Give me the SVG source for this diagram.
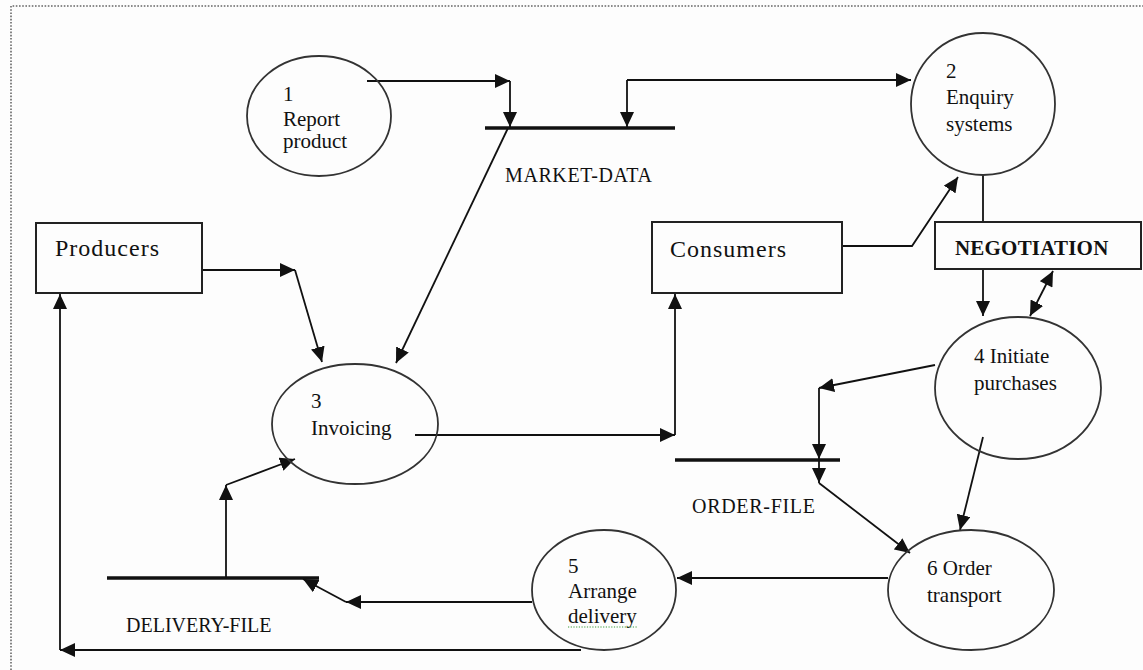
<svg xmlns="http://www.w3.org/2000/svg" width="1143" height="670" viewBox="0 0 1143 670">
<style>
.bg{fill:#fdfdfd}
.frame{fill:none;stroke:#666;stroke-width:1.6;stroke-dasharray:1.6 1.6}
.proc{fill:none;stroke:#333;stroke-width:1.8}
.box{fill:none;stroke:#222;stroke-width:2}
.store{stroke:#111;stroke-width:3.5}
.c{fill:none;stroke:#111;stroke-width:1.8;marker-end:url(#ah)}
.p{fill:none;stroke:#111;stroke-width:1.8}
.t{font-family:"Liberation Serif","Times New Roman",serif;font-size:21px;fill:#111}
.tb{font-family:"Liberation Serif","Times New Roman",serif;font-size:24px;letter-spacing:1px;fill:#111}
.ts{font-family:"Liberation Serif","Times New Roman",serif;font-size:20px;fill:#111}
.tn{font-family:"Liberation Serif","Times New Roman",serif;font-size:21px;font-weight:bold;letter-spacing:0.2px;fill:#111}
</style>
<defs>
<marker id="ah" markerUnits="userSpaceOnUse" markerWidth="16" markerHeight="14" refX="15" refY="7" orient="auto">
<path d="M0,0 L15,7 L0,14 Z" fill="#111"/>
</marker>
<marker id="as" markerUnits="userSpaceOnUse" markerWidth="16" markerHeight="14" refX="0" refY="7" orient="auto">
<path d="M15,0 L0,7 L15,14 Z" fill="#111"/>
</marker>
</defs>
<rect class="bg" x="0" y="0" width="1143" height="670"/>
<path class="frame" d="M11,670 V6 H1143"/>

<g id="connectors">
<path class="c" d="M367,81 H510"/>
<path class="c" d="M510,81 V127"/>
<path class="c" d="M627,80 H911"/>
<path class="c" d="M627,80 V127"/>
<path class="c" d="M202,270 H295"/>
<path class="c" d="M295,270 L322,362"/>
<path class="c" d="M508,128 L396,363"/>
<path class="c" d="M415,435 H675"/>
<path class="c" d="M675,435 V294"/>
<path class="c" d="M842,246 H912 L958,177"/>
<path class="p" d="M983,175 V222"/>
<path class="c" d="M983,269 V316"/>
<path class="c" d="M1053,271 L1030,316" marker-start="url(#as)"/>
<path class="c" d="M935,365 L819,388"/>
<path class="c" d="M819,388 V459"/>
<path class="c" d="M819,460 V483"/>
<path class="c" d="M819,483 L910,553"/>
<path class="c" d="M983,437 L960,530"/>
<path class="c" d="M888,578 H677"/>
<path class="c" d="M532,602 H346"/>
<path class="c" d="M346,602 L303,579"/>
<path class="c" d="M226,578 V485"/>
<path class="c" d="M226,485 L295,459"/>
<path class="c" d="M581,650 H60"/>
<path class="c" d="M60,650 V294"/>
</g>

<g id="market-data">
<line class="store" x1="485" y1="128" x2="675" y2="128"/>
<text class="ts" x="505" y="182" letter-spacing="0.6">MARKET-DATA</text>
</g>
<g id="order-file">
<line class="store" x1="675" y1="460" x2="840" y2="460"/>
<text class="ts" x="692" y="513" letter-spacing="0.7">ORDER-FILE</text>
</g>
<g id="delivery-file">
<line class="store" x1="107" y1="578" x2="319" y2="578"/>
<text class="ts" x="126" y="632">DELIVERY-FILE</text>
</g>

<g id="p1">
<ellipse class="proc" cx="319" cy="116" rx="72" ry="60"/>
<text class="t" x="283" y="101">1</text>
<text class="t" x="283" y="126">Report</text>
<text class="t" x="283" y="148">product</text>
</g>
<g id="p2">
<ellipse class="proc" cx="983" cy="104" rx="72" ry="71"/>
<text class="t" x="946" y="78">2</text>
<text class="t" x="946" y="104">Enquiry</text>
<text class="t" x="946" y="131">systems</text>
</g>
<g id="p3">
<ellipse class="proc" cx="355" cy="424" rx="83" ry="60"/>
<text class="t" x="311" y="408">3</text>
<text class="t" x="311" y="435">Invoicing</text>
</g>
<g id="p4">
<ellipse class="proc" cx="1018" cy="388" rx="83" ry="71"/>
<text class="t" x="974" y="363">4 Initiate</text>
<text class="t" x="974" y="390">purchases</text>
</g>
<g id="p5">
<ellipse class="proc" cx="604" cy="590" rx="72" ry="60"/>
<text class="t" x="568" y="573">5</text>
<text class="t" x="568" y="598">Arrange</text>
<text class="t" x="568" y="623">delivery</text>
<line x1="568" y1="627" x2="637" y2="627" stroke="#3a9a3a" stroke-width="1.2" stroke-dasharray="1.2 1.5"/>
</g>
<g id="p6">
<ellipse class="proc" cx="971" cy="590" rx="83" ry="60"/>
<text class="t" x="927" y="575">6 Order</text>
<text class="t" x="927" y="602">transport</text>
</g>

<g id="producers">
<rect class="box" x="36" y="223" width="166" height="70"/>
<text class="tb" x="55" y="256">Producers</text>
</g>
<g id="consumers">
<rect class="box" x="652" y="222" width="190" height="71"/>
<text class="tb" x="670" y="257">Consumers</text>
</g>
<g id="negotiation">
<rect class="box" x="935" y="222" width="206" height="47"/>
<text class="tn" x="955" y="255">NEGOTIATION</text>
</g>
</svg>
